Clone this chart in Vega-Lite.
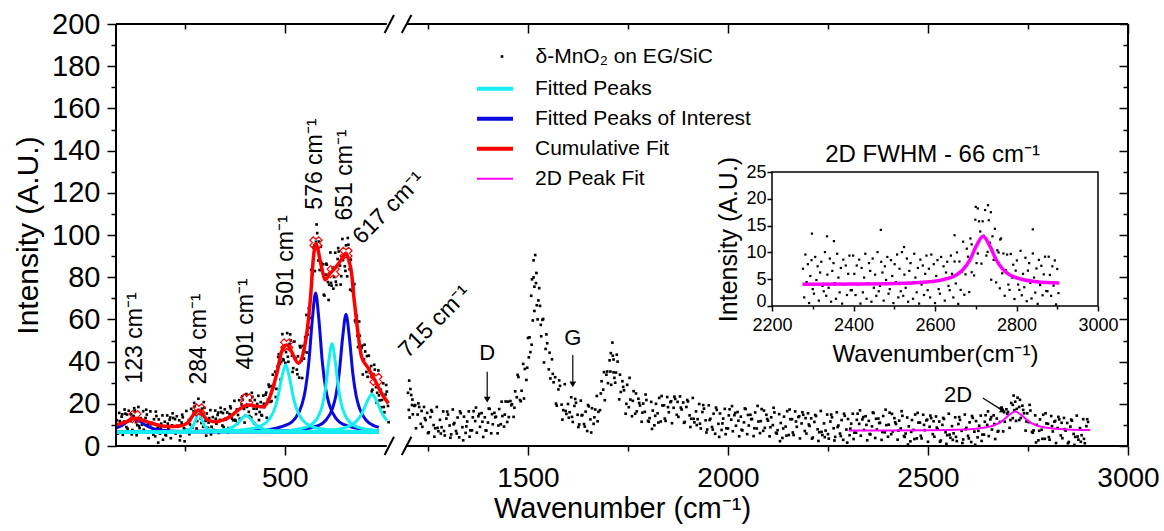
{
"$schema":"https://vega.github.io/schema/vega-lite/v6.json",
"width":1012,"height":422,
"autosize":{"type":"none"},
"padding":{"left":116,"top":24,"right":36,"bottom":85},
"background":"white",
"config":{
"font":"Liberation Sans",
"view":{"stroke":null},
"axis":{"grid":false,"domain":false,"tickColor":"black","labelColor":"black","titleColor":"black","labelFont":"Liberation Sans","titleFont":"Liberation Sans","titleFontWeight":"normal","tickWidth":1.5,"labelFlush":false,"labelOverlap":false,"labelBound":false},
"text":{"font":"Liberation Sans","color":"black"},
"legend":{"labelFont":"Liberation Sans","labelColor":"black","padding":0}
},
"datasets":{
"pts":[
{"x":80,"y":12.2},{"x":83,"y":6.0},{"x":86,"y":15.7},{"x":89,"y":9.7},{"x":92,"y":13.9},{"x":95,"y":5.3},{"x":98,"y":11.6},{"x":101,"y":15.3},{"x":104,"y":9.0},{"x":107,"y":8.2},{"x":110,"y":16.7},{"x":113,"y":11.8},{"x":116,"y":15.0},{"x":119,"y":7.6},{"x":122,"y":14.2},{"x":125,"y":16.8},{"x":128,"y":11.3},{"x":131,"y":9.9},{"x":134,"y":18.5},{"x":137,"y":8.5},{"x":140,"y":13.2},{"x":143,"y":10.1},{"x":146,"y":16.5},{"x":149,"y":6.6},{"x":152,"y":13.3},{"x":155,"y":14.9},{"x":158,"y":10.2},{"x":161,"y":6.5},{"x":164,"y":16.4},{"x":167,"y":10.9},{"x":170,"y":7.4},{"x":173,"y":12.7},{"x":176,"y":4.6},{"x":179,"y":14.2},{"x":182,"y":8.6},{"x":185,"y":12.6},{"x":188,"y":5.9},{"x":191,"y":10.6},{"x":194,"y":14.5},{"x":197,"y":6.7},{"x":200,"y":11.5},{"x":203,"y":5.0},{"x":206,"y":14.5},{"x":209,"y":8.3},{"x":212,"y":12.4},{"x":215,"y":3.7},{"x":218,"y":9.8},{"x":221,"y":13.3},{"x":224,"y":6.8},{"x":227,"y":5.9},{"x":230,"y":14.1},{"x":233,"y":9.1},{"x":236,"y":12.2},{"x":239,"y":4.7},{"x":242,"y":11.1},{"x":245,"y":13.6},{"x":248,"y":8.4},{"x":251,"y":7.6},{"x":254,"y":16.6},{"x":257,"y":7.2},{"x":260,"y":12.3},{"x":263,"y":10.2},{"x":266,"y":17.6},{"x":269,"y":8.8},{"x":272,"y":16.5},{"x":275,"y":18.8},{"x":278,"y":14.8},{"x":281,"y":11.8},{"x":284,"y":22.4},{"x":287,"y":16.8},{"x":290,"y":12.9},{"x":293,"y":17.7},{"x":296,"y":9.1},{"x":299,"y":18.1},{"x":302,"y":11.9},{"x":305,"y":15.4},{"x":308,"y":8.6},{"x":311,"y":13.2},{"x":314,"y":17.0},{"x":317,"y":9.1},{"x":320,"y":13.7},{"x":323,"y":7.3},{"x":326,"y":16.8},{"x":329,"y":10.6},{"x":332,"y":14.7},{"x":335,"y":6.2},{"x":338,"y":12.4},{"x":341,"y":16.1},{"x":344,"y":9.7},{"x":347,"y":9.0},{"x":350,"y":17.4},{"x":353,"y":12.6},{"x":356,"y":15.9},{"x":359,"y":8.5},{"x":362,"y":15.1},{"x":365,"y":17.9},{"x":368,"y":13.0},{"x":371,"y":12.2},{"x":374,"y":21.4},{"x":377,"y":12.0},{"x":380,"y":17.3},{"x":383,"y":14.7},{"x":386,"y":21.7},{"x":389,"y":12.4},{"x":392,"y":19.7},{"x":395,"y":21.9},{"x":398,"y":17.6},{"x":401,"y":14.3},{"x":404,"y":24.6},{"x":407,"y":19.4},{"x":410,"y":16.2},{"x":413,"y":21.6},{"x":416,"y":13.5},{"x":419,"y":23.3},{"x":422,"y":17.7},{"x":425,"y":21.8},{"x":428,"y":15.1},{"x":431,"y":19.9},{"x":434,"y":23.8},{"x":437,"y":16.1},{"x":440,"y":20.8},{"x":443,"y":14.4},{"x":446,"y":23.9},{"x":449,"y":18.4},{"x":452,"y":24.3},{"x":455,"y":13.4},{"x":458,"y":22.1},{"x":461,"y":28.0},{"x":464,"y":20.9},{"x":467,"y":21.3},{"x":470,"y":33.8},{"x":473,"y":28.9},{"x":476,"y":35.2},{"x":479,"y":27.1},{"x":482,"y":37.7},{"x":485,"y":43.5},{"x":488,"y":38.9},{"x":491,"y":39.9},{"x":494,"y":53.0},{"x":497,"y":40.6},{"x":500,"y":47.7},{"x":503,"y":44.5},{"x":506,"y":53.5},{"x":509,"y":39.9},{"x":512,"y":48.4},{"x":515,"y":50.0},{"x":518,"y":42.8},{"x":521,"y":36.9},{"x":524,"y":49.5},{"x":527,"y":41.5},{"x":530,"y":36.2},{"x":533,"y":42.5},{"x":536,"y":32.4},{"x":539,"y":46.7},{"x":542,"y":40.5},{"x":545,"y":47.4},{"x":548,"y":41.4},{"x":551,"y":51.6},{"x":554,"y":62.1},{"x":557,"y":52.8},{"x":560,"y":65.3},{"x":563,"y":60.7},{"x":566,"y":83.5},{"x":569,"y":81.3},{"x":572,"y":94.1},{"x":575,"y":82.9},{"x":578,"y":96.8},{"x":581,"y":100.9},{"x":584,"y":87.9},{"x":587,"y":83.4},{"x":590,"y":94.4},{"x":593,"y":83.2},{"x":596,"y":86.1},{"x":599,"y":71.3},{"x":602,"y":81.2},{"x":605,"y":85.9},{"x":608,"y":77.7},{"x":611,"y":76.4},{"x":614,"y":91.7},{"x":617,"y":76.0},{"x":620,"y":84.5},{"x":623,"y":80.1},{"x":626,"y":91.6},{"x":629,"y":76.3},{"x":632,"y":88.6},{"x":635,"y":92.2},{"x":638,"y":85.5},{"x":641,"y":80.5},{"x":644,"y":98.1},{"x":647,"y":89.9},{"x":650,"y":85.2},{"x":653,"y":95.1},{"x":656,"y":80.4},{"x":659,"y":95.4},{"x":662,"y":83.8},{"x":665,"y":88.3},{"x":668,"y":73.5},{"x":671,"y":75.5},{"x":674,"y":76.7},{"x":677,"y":58.7},{"x":680,"y":61.6},{"x":683,"y":46.9},{"x":686,"y":59.0},{"x":689,"y":45.1},{"x":692,"y":46.5},{"x":695,"y":33.9},{"x":698,"y":41.0},{"x":701,"y":44.8},{"x":704,"y":35.1},{"x":707,"y":32.8},{"x":710,"y":42.8},{"x":713,"y":34.8},{"x":716,"y":37.9},{"x":719,"y":26.7},{"x":722,"y":34.0},{"x":725,"y":36.2},{"x":728,"y":27.9},{"x":731,"y":25.2},{"x":734,"y":35.8},{"x":737,"y":21.6},{"x":740,"y":26.7},{"x":743,"y":21.8},{"x":746,"y":29.7},{"x":749,"y":16.0},{"x":752,"y":24.4},{"x":755,"y":25.8},{"x":758,"y":19.0},
{"x":81.5,"y":6.0},{"x":87.5,"y":11.8},{"x":93.5,"y":15.0},{"x":99.5,"y":17.3},{"x":105.5,"y":14.9},{"x":111.5,"y":12.2},{"x":117.5,"y":5.5},{"x":123.5,"y":17.9},{"x":129.5,"y":5.1},{"x":135.5,"y":9.5},{"x":141.5,"y":6.5},{"x":147.5,"y":7.7},{"x":153.5,"y":17.2},{"x":159.5,"y":3.7},{"x":165.5,"y":10.3},{"x":171.5,"y":5.4},{"x":177.5,"y":16.3},{"x":183.5,"y":1.6},{"x":189.5,"y":8.4},{"x":195.5,"y":3.0},{"x":201.5,"y":5.4},{"x":207.5,"y":10.6},{"x":213.5,"y":13.5},{"x":219.5,"y":15.5},{"x":225.5,"y":12.7},{"x":231.5,"y":9.6},{"x":237.5,"y":2.7},{"x":243.5,"y":14.8},{"x":249.5,"y":2.2},{"x":255.5,"y":7.6},{"x":261.5,"y":5.6},{"x":267.5,"y":8.8},{"x":273.5,"y":20.4},{"x":279.5,"y":8.3},{"x":285.5,"y":16.3},{"x":291.5,"y":10.9},{"x":297.5,"y":20.8},{"x":303.5,"y":4.9},{"x":309.5,"y":11.1},{"x":315.5,"y":5.5},{"x":321.5,"y":7.6},{"x":327.5,"y":12.9},{"x":333.5,"y":15.8},{"x":339.5,"y":18.1},{"x":345.5,"y":15.6},{"x":351.5,"y":12.9},{"x":357.5,"y":6.4},{"x":363.5,"y":18.8},{"x":369.5,"y":6.8},{"x":375.5,"y":12.4},{"x":381.5,"y":10.6},{"x":387.5,"y":12.9},{"x":393.5,"y":23.6},{"x":399.5,"y":11.1},{"x":405.5,"y":18.5},{"x":411.5,"y":14.2},{"x":417.5,"y":25.2},{"x":423.5,"y":10.7},{"x":429.5,"y":17.6},{"x":435.5,"y":12.3},{"x":441.5,"y":14.7},{"x":447.5,"y":20.0},{"x":453.5,"y":25.3},{"x":459.5,"y":29.1},{"x":465.5,"y":28.4},{"x":471.5,"y":27.7},{"x":477.5,"y":23.2},{"x":483.5,"y":42.2},{"x":489.5,"y":31.5},{"x":495.5,"y":41.2},{"x":501.5,"y":39.4},{"x":507.5,"y":42.3},{"x":513.5,"y":52.9},{"x":519.5,"y":35.1},{"x":525.5,"y":41.4},{"x":531.5,"y":34.0},{"x":537.5,"y":47.4},{"x":543.5,"y":32.2},{"x":549.5,"y":44.8},{"x":555.5,"y":44.3},{"x":561.5,"y":56.0},{"x":567.5,"y":76.8},{"x":573.5,"y":95.0},{"x":579.5,"y":105.0},{"x":585.5,"y":96.9},{"x":591.5,"y":86.8},{"x":597.5,"y":71.7},{"x":603.5,"y":86.4},{"x":609.5,"y":69.2},{"x":615.5,"y":77.3},{"x":621.5,"y":74.6},{"x":627.5,"y":77.9},{"x":633.5,"y":93.8},{"x":639.5,"y":76.5},{"x":645.5,"y":88.1},{"x":651.5,"y":83.0},{"x":657.5,"y":98.6},{"x":663.5,"y":74.1},{"x":669.5,"y":77.8},{"x":675.5,"y":59.5},{"x":681.5,"y":52.3},{"x":687.5,"y":52.3},{"x":693.5,"y":47.5},{"x":699.5,"y":48.0},{"x":705.5,"y":42.6},{"x":711.5,"y":36.7},{"x":717.5,"y":25.9},{"x":723.5,"y":38.5},{"x":729.5,"y":20.5},{"x":735.5,"y":24.0},{"x":741.5,"y":18.4},{"x":747.5,"y":18.5},{"x":753.5,"y":28.9},{"x":759.5,"y":11.3},
{"x":1200,"y":25.2},{"x":1204,"y":13.5},{"x":1208,"y":24.2},{"x":1212,"y":15.0},{"x":1216,"y":19.0},{"x":1220,"y":8.4},{"x":1224,"y":14.9},{"x":1228,"y":18.5},{"x":1232,"y":10.5},{"x":1236,"y":9.1},{"x":1240,"y":18.5},{"x":1244,"y":12.3},{"x":1248,"y":15.7},{"x":1252,"y":6.5},{"x":1256,"y":13.7},{"x":1260,"y":16.3},{"x":1264,"y":9.9},{"x":1268,"y":8.4},{"x":1272,"y":18.5},{"x":1276,"y":7.0},{"x":1280,"y":12.4},{"x":1284,"y":8.9},{"x":1288,"y":16.4},{"x":1292,"y":5.0},{"x":1296,"y":13.0},{"x":1300,"y":14.9},{"x":1304,"y":9.7},{"x":1308,"y":5.5},{"x":1312,"y":17.3},{"x":1316,"y":10.9},{"x":1320,"y":7.1},{"x":1324,"y":13.5},{"x":1328,"y":4.1},{"x":1332,"y":15.5},{"x":1336,"y":8.9},{"x":1340,"y":13.9},{"x":1344,"y":6.2},{"x":1348,"y":11.6},{"x":1352,"y":16.4},{"x":1356,"y":7.4},{"x":1360,"y":7.4},{"x":1364,"y":16.5},{"x":1368,"y":11.8},{"x":1372,"y":6.3},{"x":1376,"y":14.1},{"x":1380,"y":9.1},{"x":1384,"y":15.6},{"x":1388,"y":4.3},{"x":1392,"y":13.6},{"x":1396,"y":7.3},{"x":1400,"y":11.1},{"x":1404,"y":17.6},{"x":1408,"y":6.0},{"x":1412,"y":10.3},{"x":1416,"y":15.7},{"x":1420,"y":13.9},{"x":1424,"y":6.0},{"x":1428,"y":17.5},{"x":1432,"y":10.3},{"x":1436,"y":14.2},{"x":1440,"y":9.2},{"x":1444,"y":21.1},{"x":1448,"y":11.4},{"x":1452,"y":13.7},{"x":1456,"y":21.3},{"x":1460,"y":19.8},{"x":1464,"y":13.8},{"x":1468,"y":25.9},{"x":1472,"y":23.1},{"x":1476,"y":32.7},{"x":1480,"y":21.8},{"x":1484,"y":26.2},{"x":1488,"y":38.9},{"x":1492,"y":36.5},{"x":1496,"y":31.3},{"x":1500,"y":51.2},{"x":1504,"y":51.5},{"x":1508,"y":71.2},{"x":1512,"y":59.5},{"x":1516,"y":75.5},{"x":1520,"y":77.2},{"x":1524,"y":60.0},{"x":1528,"y":74.8},{"x":1532,"y":57.4},{"x":1536,"y":59.8},{"x":1540,"y":39.6},{"x":1544,"y":46.0},{"x":1548,"y":48.7},{"x":1552,"y":36.3},{"x":1556,"y":32.0},{"x":1560,"y":41.1},{"x":1564,"y":30.2},{"x":1568,"y":32.6},{"x":1572,"y":19.1},{"x":1576,"y":26.8},{"x":1580,"y":28.5},{"x":1584,"y":19.6},{"x":1588,"y":17.0},{"x":1592,"y":29.3},{"x":1596,"y":15.2},{"x":1600,"y":19.9},{"x":1604,"y":16.0},{"x":1608,"y":23.1},{"x":1612,"y":11.4},{"x":1616,"y":19.0},{"x":1620,"y":20.5},{"x":1624,"y":14.8},{"x":1628,"y":10.2},{"x":1632,"y":21.5},{"x":1636,"y":14.7},{"x":1640,"y":10.4},{"x":1644,"y":16.3},{"x":1648,"y":7.1},{"x":1652,"y":18.8},{"x":1656,"y":12.6},{"x":1660,"y":17.9},{"x":1664,"y":10.5},{"x":1668,"y":17.3},{"x":1672,"y":23.7},{"x":1676,"y":16.2},{"x":1680,"y":17.0},{"x":1684,"y":30.7},{"x":1688,"y":26.7},{"x":1692,"y":21.7},{"x":1696,"y":33.8},{"x":1700,"y":29.8},{"x":1704,"y":40.6},{"x":1708,"y":29.0},{"x":1712,"y":42.8},{"x":1716,"y":32.3},{"x":1720,"y":34.8},{"x":1724,"y":40.0},{"x":1728,"y":22.1},{"x":1732,"y":25.6},{"x":1736,"y":30.7},{"x":1740,"y":26.4},{"x":1744,"y":15.3},{"x":1748,"y":29.0},{"x":1752,"y":18.4},{"x":1756,"y":22.0},{"x":1760,"y":14.1},{"x":1764,"y":26.0},{"x":1768,"y":15.3},{"x":1772,"y":16.4},{"x":1776,"y":22.4},{"x":1780,"y":19.2},{"x":1784,"y":11.5},{"x":1788,"y":20.1},{"x":1792,"y":16.2},{"x":1796,"y":21.8},{"x":1800,"y":11.9},{"x":1804,"y":13.2},{"x":1808,"y":20.9},{"x":1812,"y":16.8},{"x":1816,"y":9.8},{"x":1820,"y":20.0},{"x":1824,"y":15.5},{"x":1828,"y":22.8},{"x":1832,"y":11.6},{"x":1836,"y":19.2},{"x":1840,"y":19.3},{"x":1844,"y":11.9},{"x":1848,"y":23.2},{"x":1852,"y":16.0},{"x":1856,"y":20.8},{"x":1860,"y":10.8},{"x":1864,"y":18.1},{"x":1868,"y":22.3},{"x":1872,"y":14.8},{"x":1876,"y":13.8},{"x":1880,"y":23.5},{"x":1884,"y":17.3},{"x":1888,"y":20.6},{"x":1892,"y":11.4},{"x":1896,"y":18.5},{"x":1900,"y":21.1},{"x":1904,"y":14.5},{"x":1908,"y":12.9},{"x":1912,"y":22.8},{"x":1916,"y":11.2},{"x":1920,"y":16.4},{"x":1924,"y":12.7},{"x":1928,"y":19.9},{"x":1932,"y":8.3},{"x":1936,"y":16.1},{"x":1940,"y":17.7},{"x":1944,"y":12.2},{"x":1948,"y":7.8},{"x":1952,"y":19.3},{"x":1956,"y":12.9},{"x":1960,"y":9.0},{"x":1964,"y":15.3},{"x":1968,"y":5.8},{"x":1972,"y":17.1},{"x":1976,"y":10.5},{"x":1980,"y":15.4},{"x":1984,"y":7.6},{"x":1988,"y":13.0},{"x":1992,"y":17.6},{"x":1996,"y":8.4},{"x":2000,"y":8.3},{"x":2004,"y":17.4},{"x":2008,"y":12.5},{"x":2012,"y":7.0},{"x":2016,"y":14.6},{"x":2020,"y":9.6},{"x":2024,"y":16.1},{"x":2028,"y":4.6},{"x":2032,"y":13.9},{"x":2036,"y":7.4},{"x":2040,"y":11.2},{"x":2044,"y":17.5},{"x":2048,"y":5.6},{"x":2052,"y":9.7},{"x":2056,"y":14.8},{"x":2060,"y":12.8},{"x":2064,"y":4.7},{"x":2068,"y":15.9},{"x":2072,"y":8.3},{"x":2076,"y":11.6},{"x":2080,"y":6.1},{"x":2084,"y":17.5},{"x":2088,"y":7.2},{"x":2092,"y":8.6},{"x":2096,"y":14.8},{"x":2100,"y":12.0},{"x":2104,"y":4.6},{"x":2108,"y":13.6},{"x":2112,"y":9.9},{"x":2116,"y":15.9},{"x":2120,"y":6.3},{"x":2124,"y":7.5},{"x":2128,"y":15.1},{"x":2132,"y":10.9},{"x":2136,"y":3.8},{"x":2140,"y":13.9},{"x":2144,"y":9.2},{"x":2148,"y":16.5},{"x":2152,"y":5.2},{"x":2156,"y":12.7},{"x":2160,"y":12.7},{"x":2164,"y":5.2},{"x":2168,"y":16.4},{"x":2172,"y":9.1},{"x":2176,"y":13.7},{"x":2180,"y":3.6},{"x":2184,"y":10.7},{"x":2188,"y":14.8},{"x":2192,"y":7.1},{"x":2196,"y":5.9},{"x":2200,"y":15.5},{"x":2204,"y":9.5},{"x":2208,"y":13.1},{"x":2212,"y":4.0},{"x":2216,"y":11.4},{"x":2220,"y":14.2},{"x":2224,"y":7.9},{"x":2228,"y":6.5},{"x":2232,"y":16.6},{"x":2236,"y":5.2},{"x":2240,"y":10.7},{"x":2244,"y":7.3},{"x":2248,"y":14.9},{"x":2252,"y":3.5},{"x":2256,"y":11.6},{"x":2260,"y":13.6},{"x":2264,"y":8.4},{"x":2268,"y":4.3},{"x":2272,"y":16.0},{"x":2276,"y":9.7},{"x":2280,"y":5.9},{"x":2284,"y":12.3},{"x":2288,"y":2.9},{"x":2292,"y":14.3},{"x":2296,"y":7.8},{"x":2300,"y":12.8},{"x":2304,"y":5.1},{"x":2308,"y":10.6},{"x":2312,"y":15.3},{"x":2316,"y":6.3},{"x":2320,"y":6.3},{"x":2324,"y":15.3},{"x":2328,"y":10.5},{"x":2332,"y":4.9},{"x":2336,"y":12.6},{"x":2340,"y":7.6},{"x":2344,"y":14.1},{"x":2348,"y":2.7},{"x":2352,"y":11.9},{"x":2356,"y":5.5},{"x":2360,"y":9.3},{"x":2364,"y":15.6},{"x":2368,"y":3.8},{"x":2372,"y":7.8},{"x":2376,"y":13.0},{"x":2380,"y":11.0},{"x":2384,"y":2.9},{"x":2388,"y":14.2},{"x":2392,"y":6.5},{"x":2396,"y":9.9},{"x":2400,"y":4.4},{"x":2404,"y":15.8},{"x":2408,"y":5.6},{"x":2412,"y":6.9},{"x":2416,"y":13.2},{"x":2420,"y":10.4},{"x":2424,"y":3.0},{"x":2428,"y":12.0},{"x":2432,"y":8.3},{"x":2436,"y":14.3},{"x":2440,"y":4.7},{"x":2444,"y":5.9},{"x":2448,"y":13.5},{"x":2452,"y":9.3},{"x":2456,"y":2.2},{"x":2460,"y":12.3},{"x":2464,"y":7.6},{"x":2468,"y":14.9},{"x":2472,"y":3.6},{"x":2476,"y":11.1},{"x":2480,"y":11.1},{"x":2484,"y":3.6},{"x":2488,"y":14.8},{"x":2492,"y":7.5},{"x":2496,"y":12.1},{"x":2500,"y":2.0},{"x":2504,"y":9.1},{"x":2508,"y":13.2},{"x":2512,"y":5.6},{"x":2516,"y":4.4},{"x":2520,"y":14.0},{"x":2524,"y":8.0},{"x":2528,"y":11.6},{"x":2532,"y":2.6},{"x":2536,"y":10.0},{"x":2540,"y":12.8},{"x":2544,"y":6.5},{"x":2548,"y":5.1},{"x":2552,"y":15.3},{"x":2556,"y":3.9},{"x":2560,"y":9.4},{"x":2564,"y":6.0},{"x":2568,"y":13.6},{"x":2572,"y":2.3},{"x":2576,"y":10.4},{"x":2580,"y":12.4},{"x":2584,"y":7.2},{"x":2588,"y":3.1},{"x":2592,"y":14.9},{"x":2596,"y":8.6},{"x":2600,"y":4.8},{"x":2604,"y":11.2},{"x":2608,"y":1.9},{"x":2612,"y":13.3},{"x":2616,"y":6.8},{"x":2620,"y":11.8},{"x":2624,"y":4.1},{"x":2628,"y":9.6},{"x":2632,"y":14.4},{"x":2636,"y":5.4},{"x":2640,"y":5.4},{"x":2644,"y":14.6},{"x":2648,"y":10.0},{"x":2652,"y":4.7},{"x":2656,"y":12.6},{"x":2660,"y":7.8},{"x":2664,"y":14.5},{"x":2668,"y":3.3},{"x":2672,"y":13.0},{"x":2676,"y":7.1},{"x":2680,"y":11.4},{"x":2684,"y":18.2},{"x":2688,"y":6.9},{"x":2692,"y":11.5},{"x":2696,"y":17.4},{"x":2700,"y":16.1},{"x":2704,"y":8.6},{"x":2708,"y":20.4},{"x":2712,"y":13.2},{"x":2716,"y":17.0},{"x":2720,"y":11.9},{"x":2724,"y":22.9},{"x":2728,"y":12.3},{"x":2732,"y":13.3},{"x":2736,"y":19.1},{"x":2740,"y":15.5},{"x":2744,"y":7.3},{"x":2748,"y":15.5},{"x":2752,"y":11.3},{"x":2756,"y":16.8},{"x":2760,"y":6.7},{"x":2764,"y":7.4},{"x":2768,"y":14.5},{"x":2772,"y":10.0},{"x":2776,"y":2.7},{"x":2780,"y":12.6},{"x":2784,"y":7.7},{"x":2788,"y":14.8},{"x":2792,"y":3.4},{"x":2796,"y":10.7},{"x":2800,"y":10.5},{"x":2804,"y":3.0},{"x":2808,"y":14.2},{"x":2812,"y":6.9},{"x":2816,"y":11.5},{"x":2820,"y":1.4},{"x":2824,"y":8.5},{"x":2828,"y":12.6},{"x":2832,"y":5.0},{"x":2836,"y":3.7},{"x":2840,"y":13.3},{"x":2844,"y":7.3},{"x":2848,"y":10.9},{"x":2852,"y":1.9},{"x":2856,"y":9.2},{"x":2860,"y":12.0},{"x":2864,"y":5.7},{"x":2868,"y":4.3},{"x":2872,"y":14.4},{"x":2876,"y":3.0},{"x":2880,"y":8.5},{"x":2884,"y":5.1},{"x":2888,"y":12.7},{"x":2892,"y":1.3},{"x":2896,"y":9.4},{"x":2900,"y":11.4},
{"x":1202,"y":17.1},{"x":1210,"y":19.4},{"x":1218,"y":19.4},{"x":1226,"y":20.2},{"x":1234,"y":16.6},{"x":1242,"y":13.2},{"x":1250,"y":6.1},{"x":1258,"y":17.0},{"x":1266,"y":4.4},{"x":1274,"y":8.6},{"x":1282,"y":5.9},{"x":1290,"y":7.1},{"x":1298,"y":16.3},{"x":1306,"y":3.9},{"x":1314,"y":10.3},{"x":1322,"y":5.9},{"x":1330,"y":16.4},{"x":1338,"y":2.7},{"x":1346,"y":9.3},{"x":1354,"y":4.4},{"x":1362,"y":13.6},{"x":1370,"y":18.2},{"x":1378,"y":15.2},{"x":1386,"y":11.5},{"x":1394,"y":7.4},{"x":1402,"y":17.7},{"x":1410,"y":15.1},{"x":1418,"y":13.6},{"x":1426,"y":9.7},{"x":1434,"y":21.0},{"x":1442,"y":14.9},{"x":1450,"y":21.0},{"x":1458,"y":19.3},{"x":1466,"y":18.1},{"x":1474,"y":33.7},{"x":1482,"y":21.2},{"x":1490,"y":22.5},{"x":1498,"y":37.1},{"x":1506,"y":44.5},{"x":1514,"y":79.9},{"x":1522,"y":66.7},{"x":1530,"y":66.4},{"x":1538,"y":60.2},{"x":1546,"y":52.9},{"x":1554,"y":44.2},{"x":1562,"y":34.2},{"x":1570,"y":20.1},{"x":1578,"y":31.1},{"x":1586,"y":12.5},{"x":1594,"y":16.6},{"x":1602,"y":13.4},{"x":1610,"y":13.8},{"x":1618,"y":22.3},{"x":1626,"y":9.0},{"x":1634,"y":14.5},{"x":1642,"y":9.2},{"x":1650,"y":19.4},{"x":1658,"y":6.4},{"x":1666,"y":13.6},{"x":1674,"y":11.7},{"x":1682,"y":24.9},{"x":1690,"y":35.0},{"x":1698,"y":35.3},{"x":1706,"y":35.3},{"x":1714,"y":34.9},{"x":1722,"y":43.3},{"x":1730,"y":33.8},{"x":1738,"y":28.0},{"x":1746,"y":20.0},{"x":1754,"y":32.3},{"x":1762,"y":21.4},{"x":1770,"y":24.9},{"x":1778,"y":20.4},{"x":1786,"y":15.8},{"x":1794,"y":24.4},{"x":1802,"y":11.5},{"x":1810,"y":8.1},{"x":1818,"y":14.3},{"x":1826,"y":11.1},{"x":1834,"y":23.7},{"x":1842,"y":13.0},{"x":1850,"y":18.4},{"x":1858,"y":21.2},{"x":1866,"y":23.4},{"x":1874,"y":20.9},{"x":1882,"y":18.2},{"x":1890,"y":11.0},{"x":1898,"y":21.8},{"x":1906,"y":9.0},{"x":1914,"y":12.9},{"x":1922,"y":9.9},{"x":1930,"y":10.6},{"x":1938,"y":19.4},{"x":1946,"y":6.4},{"x":1954,"y":12.3},{"x":1962,"y":7.8},{"x":1970,"y":18.2},{"x":1978,"y":4.3},{"x":1986,"y":10.7},{"x":1994,"y":5.6},{"x":2002,"y":14.5},{"x":2010,"y":18.9},{"x":2018,"y":15.7},{"x":2026,"y":12.0},{"x":2034,"y":7.7},{"x":2042,"y":17.8},{"x":2050,"y":14.7},{"x":2058,"y":12.7},{"x":2066,"y":8.4},{"x":2074,"y":19.0},{"x":2082,"y":11.8},{"x":2090,"y":16.8},{"x":2098,"y":12.8},{"x":2106,"y":8.9},{"x":2114,"y":18.1},{"x":2122,"y":5.9},{"x":2130,"y":2.3},{"x":2138,"y":8.3},{"x":2146,"y":4.9},{"x":2154,"y":17.3},{"x":2162,"y":6.4},{"x":2170,"y":11.6},{"x":2178,"y":14.1},{"x":2186,"y":16.0},{"x":2194,"y":13.2},{"x":2202,"y":10.2},{"x":2210,"y":3.5},{"x":2218,"y":14.7},{"x":2226,"y":2.4},{"x":2234,"y":6.7},{"x":2242,"y":4.2},{"x":2250,"y":5.6},{"x":2258,"y":14.9},{"x":2266,"y":2.6},{"x":2274,"y":9.0},{"x":2282,"y":4.7},{"x":2290,"y":15.3},{"x":2298,"y":1.6},{"x":2306,"y":8.2},{"x":2314,"y":3.3},{"x":2322,"y":12.4},{"x":2330,"y":16.9},{"x":2338,"y":13.7},{"x":2346,"y":10.0},{"x":2354,"y":5.7},{"x":2362,"y":15.9},{"x":2370,"y":12.9},{"x":2378,"y":10.9},{"x":2386,"y":6.6},{"x":2394,"y":17.2},{"x":2402,"y":10.1},{"x":2410,"y":15.2},{"x":2418,"y":11.2},{"x":2426,"y":7.3},{"x":2434,"y":16.5},{"x":2442,"y":4.3},{"x":2450,"y":0.7},{"x":2458,"y":6.7},{"x":2466,"y":3.3},{"x":2474,"y":15.7},{"x":2482,"y":4.8},{"x":2490,"y":10.0},{"x":2498,"y":12.5},{"x":2506,"y":14.4},{"x":2514,"y":11.7},{"x":2522,"y":8.7},{"x":2530,"y":2.0},{"x":2538,"y":13.3},{"x":2546,"y":1.0},{"x":2554,"y":5.4},{"x":2562,"y":2.9},{"x":2570,"y":4.3},{"x":2578,"y":13.7},{"x":2586,"y":1.4},{"x":2594,"y":7.9},{"x":2602,"y":3.6},{"x":2610,"y":14.2},{"x":2618,"y":0.6},{"x":2626,"y":7.2},{"x":2634,"y":2.4},{"x":2642,"y":11.5},{"x":2650,"y":16.4},{"x":2658,"y":13.7},{"x":2666,"y":10.4},{"x":2674,"y":6.8},{"x":2682,"y":18.0},{"x":2690,"y":16.0},{"x":2698,"y":15.3},{"x":2706,"y":12.3},{"x":2714,"y":23.9},{"x":2722,"y":17.6},{"x":2730,"y":21.9},{"x":2738,"y":17.1},{"x":2746,"y":11.6},{"x":2754,"y":19.5},{"x":2762,"y":6.3},{"x":2770,"y":1.7},{"x":2778,"y":7.2},{"x":2786,"y":3.4},{"x":2794,"y":15.5},{"x":2802,"y":4.2},{"x":2810,"y":9.4},{"x":2818,"y":11.9},{"x":2826,"y":13.8},{"x":2834,"y":11.0},{"x":2842,"y":8.0},{"x":2850,"y":1.3},{"x":2858,"y":12.5},{"x":2866,"y":0.5},{"x":2874,"y":4.5},{"x":2882,"y":2.0},{"x":2890,"y":3.4},{"x":2898,"y":12.7},
{"x":1514,"y":88},{"x":1518,"y":90.5},{"x":1521,"y":82},{"x":1516,"y":64},{"x":1510,"y":79},{"x":1526,"y":69},{"x":1509,"y":48},{"x":1533,"y":52},{"x":1502,"y":42},{"x":1711,"y":49},{"x":1707,"y":44},{"x":1714,"y":41},{"x":1718,"y":30},{"x":2718,"y":21},{"x":2712,"y":19.5},{"x":2728,"y":18.5},{"x":1203,"y":31},{"x":1206,"y":27},{"x":1211,"y":22}
],
"blue":[
{"p":"b123","x":80,"y":8.63},{"p":"b123","x":93,"y":9.75},{"p":"b123","x":108,"y":11.7},{"p":"b123","x":123,"y":13.0},{"p":"b123","x":138,"y":11.7},{"p":"b123","x":153,"y":9.75},{"p":"b123","x":168,"y":8.5},{"p":"b123","x":183,"y":7.8},{"p":"b123","x":213,"y":7.15},{"p":"b123","x":243,"y":6.88},{"p":"b123","x":363,"y":6.6},{"p":"b123","x":735,"y":6.52},
{"p":"b576","x":80,"y":6.58},{"p":"b576","x":441,"y":7.52},{"p":"b576","x":509,"y":10.38},{"p":"b576","x":526,"y":13.1},{"p":"b576","x":543,"y":19.7},{"p":"b576","x":551.5,"y":26.8},{"p":"b576","x":560,"y":39.5},{"p":"b576","x":568.5,"y":59.3},{"p":"b576","x":577,"y":72.5},{"p":"b576","x":585.5,"y":59.3},{"p":"b576","x":594,"y":39.5},{"p":"b576","x":602.5,"y":26.8},{"p":"b576","x":611,"y":19.7},{"p":"b576","x":628,"y":13.1},{"p":"b576","x":645,"y":10.38},{"p":"b576","x":713,"y":7.52},{"p":"b576","x":735,"y":7.25},
{"p":"b651","x":80,"y":6.55},{"p":"b651","x":517,"y":7.36},{"p":"b651","x":585,"y":9.79},{"p":"b651","x":602,"y":12.1},{"p":"b651","x":619,"y":17.7},{"p":"b651","x":627.5,"y":23.7},{"p":"b651","x":636,"y":34.5},{"p":"b651","x":644.5,"y":51.3},{"p":"b651","x":653,"y":62.5},{"p":"b651","x":661.5,"y":51.3},{"p":"b651","x":670,"y":34.5},{"p":"b651","x":678.5,"y":23.7},{"p":"b651","x":687,"y":17.7},{"p":"b651","x":704,"y":12.1},{"p":"b651","x":721,"y":9.79},{"p":"b651","x":735,"y":8.81}
],
"cyan":[
{"p":"c284","x":80,"y":6.52},{"p":"c284","x":205,"y":6.65},{"p":"c284","x":245,"y":7.06},{"p":"c284","x":255,"y":7.45},{"p":"c284","x":265,"y":8.4},{"p":"c284","x":270,"y":9.42},{"p":"c284","x":275,"y":11.25},{"p":"c284","x":280,"y":14.1},{"p":"c284","x":285,"y":16.0},{"p":"c284","x":290,"y":14.1},{"p":"c284","x":295,"y":11.25},{"p":"c284","x":300,"y":9.42},{"p":"c284","x":305,"y":8.4},{"p":"c284","x":315,"y":7.45},{"p":"c284","x":325,"y":7.06},{"p":"c284","x":365,"y":6.65},{"p":"c284","x":735,"y":6.5},
{"p":"c401","x":80,"y":6.54},{"p":"c401","x":227,"y":6.62},{"p":"c401","x":315,"y":6.97},{"p":"c401","x":337,"y":7.3},{"p":"c401","x":359,"y":8.1},{"p":"c401","x":370,"y":8.96},{"p":"c401","x":381,"y":10.5},{"p":"c401","x":392,"y":12.9},{"p":"c401","x":403,"y":14.5},{"p":"c401","x":414,"y":12.9},{"p":"c401","x":425,"y":10.5},{"p":"c401","x":436,"y":8.96},{"p":"c401","x":447,"y":8.1},{"p":"c401","x":469,"y":7.3},{"p":"c401","x":491,"y":6.97},{"p":"c401","x":579,"y":6.62},{"p":"c401","x":735,"y":6.54},
{"p":"c501","x":80,"y":6.57},{"p":"c501","x":342,"y":6.99},{"p":"c501","x":422,"y":8.38},{"p":"c501","x":442,"y":9.7},{"p":"c501","x":462,"y":12.9},{"p":"c501","x":472,"y":16.35},{"p":"c501","x":482,"y":22.5},{"p":"c501","x":492,"y":32.1},{"p":"c501","x":502,"y":38.5},{"p":"c501","x":512,"y":32.1},{"p":"c501","x":522,"y":22.5},{"p":"c501","x":532,"y":16.35},{"p":"c501","x":542,"y":12.9},{"p":"c501","x":562,"y":9.7},{"p":"c501","x":582,"y":8.38},{"p":"c501","x":662,"y":6.99},{"p":"c501","x":735,"y":6.73},
{"p":"c617","x":80,"y":6.54},{"p":"c617","x":490,"y":7.15},{"p":"c617","x":554,"y":8.97},{"p":"c617","x":570,"y":10.7},{"p":"c617","x":586,"y":14.9},{"p":"c617","x":594,"y":19.4},{"p":"c617","x":602,"y":27.5},{"p":"c617","x":610,"y":40.1},{"p":"c617","x":618,"y":48.5},{"p":"c617","x":626,"y":40.1},{"p":"c617","x":634,"y":27.5},{"p":"c617","x":642,"y":19.4},{"p":"c617","x":650,"y":14.9},{"p":"c617","x":666,"y":10.7},{"p":"c617","x":682,"y":8.97},{"p":"c617","x":735,"y":7.27},
{"p":"c715","x":80,"y":6.53},{"p":"c715","x":518,"y":6.78},{"p":"c715","x":618,"y":7.56},{"p":"c715","x":643,"y":8.3},{"p":"c715","x":668,"y":10.1},{"p":"c715","x":680.5,"y":12.04},{"p":"c715","x":693,"y":15.5},{"p":"c715","x":705.5,"y":20.9},{"p":"c715","x":718,"y":24.5},{"p":"c715","x":730.5,"y":20.9},{"p":"c715","x":743,"y":15.5},{"p":"c715","x":755.5,"y":12.04}
],
"red":[
{"x":78,"y":10},{"x":100,"y":11.2},{"x":125,"y":13.1},{"x":145,"y":12.2},{"x":163,"y":11},{"x":185,"y":9.8},{"x":205,"y":9.2},{"x":230,"y":9.4},{"x":246,"y":9.9},{"x":260,"y":11.5},{"x":271,"y":14.7},{"x":285,"y":17.1},{"x":295,"y":15},{"x":305,"y":12.6},{"x":320,"y":11.6},{"x":330,"y":11.5},{"x":345,"y":12.3},{"x":363,"y":13.9},{"x":380,"y":16.5},{"x":396,"y":18.6},{"x":409,"y":19.4},{"x":425,"y":19},{"x":446,"y":18.6},{"x":460,"y":22},{"x":471,"y":28.1},{"x":482,"y":36},{"x":492,"y":44.7},{"x":505,"y":47.9},{"x":515,"y":45.5},{"x":521,"y":43.1},{"x":534,"y":39.2},{"x":546,"y":44},{"x":559,"y":59.7},{"x":565,"y":72},{"x":571,"y":88.2},{"x":578,"y":96},{"x":583,"y":93},{"x":588,"y":88.2},{"x":594,"y":83},{"x":600.5,"y":78.7},{"x":613,"y":81.8},{"x":625.5,"y":84.2},{"x":638,"y":87.4},{"x":653,"y":91.3},{"x":660,"y":88},{"x":667,"y":81.8},{"x":673,"y":70},{"x":680,"y":58.1},{"x":692,"y":42.3},{"x":709,"y":36.8},{"x":725,"y":31.3},{"x":742,"y":25},{"x":759,"y":20.2}
],
"mag":[
{"x":2302,"y":7.35},{"x":2400,"y":7.4},{"x":2500,"y":7.5},{"x":2586,"y":7.83},{"x":2619,"y":8.2},{"x":2652,"y":9.1},{"x":2668.5,"y":10.07},{"x":2685,"y":11.8},{"x":2701.5,"y":14.5},{"x":2718,"y":16.3},{"x":2734.5,"y":14.5},{"x":2751,"y":11.8},{"x":2767.5,"y":10.07},{"x":2784,"y":9.1},{"x":2817,"y":8.2},{"x":2850,"y":7.83},{"x":2905,"y":7.57}
],
"imag":[
{"x":2275,"y":4.05},{"x":2400,"y":4.1},{"x":2500,"y":4.2},{"x":2586,"y":4.53},{"x":2619,"y":4.9},{"x":2652,"y":5.8},{"x":2668.5,"y":6.77},{"x":2685,"y":8.5},{"x":2701.5,"y":11.2},{"x":2718,"y":13},{"x":2734.5,"y":11.2},{"x":2751,"y":8.5},{"x":2767.5,"y":6.77},{"x":2784,"y":5.8},{"x":2817,"y":4.9},{"x":2850,"y":4.53},{"x":2905,"y":4.27}
],
"ins":[
{"x":2276,"y":6.95},{"x":2279,"y":1.6},{"x":2282,"y":9.6},{"x":2285,"y":4.45},{"x":2288,"y":7.8},{"x":2291,"y":0.55},{"x":2294,"y":5.6},{"x":2297,"y":8.55},{"x":2300,"y":3.15},{"x":2303,"y":2.3},{"x":2306,"y":9.15},{"x":2309,"y":4.85},{"x":2312,"y":7.4},{"x":2315,"y":1.0},{"x":2318,"y":6.25},{"x":2321,"y":8.25},{"x":2324,"y":3.75},{"x":2327,"y":2.75},{"x":2330,"y":10.05},{"x":2333,"y":1.9},{"x":2336,"y":5.85},{"x":2339,"y":3.4},{"x":2342,"y":8.85},{"x":2345,"y":0.8},{"x":2348,"y":6.55},{"x":2351,"y":8.0},{"x":2354,"y":4.25},{"x":2357,"y":1.35},{"x":2360,"y":9.75},{"x":2363,"y":5.3},{"x":2366,"y":2.55},{"x":2369,"y":7.1},{"x":2372,"y":0.45},{"x":2375,"y":8.65},{"x":2378,"y":4.0},{"x":2381,"y":7.55},{"x":2384,"y":2.05},{"x":2387,"y":6.0},{"x":2390,"y":9.4},{"x":2393,"y":2.95},
{"x":2396,"y":2.95},{"x":2399,"y":9.4},{"x":2402,"y":6.0},{"x":2405,"y":2.05},{"x":2408,"y":7.55},{"x":2411,"y":4.0},{"x":2414,"y":8.65},{"x":2417,"y":0.45},{"x":2420,"y":7.1},{"x":2423,"y":2.55},{"x":2426,"y":5.3},{"x":2429,"y":9.75},{"x":2432,"y":1.35},{"x":2435,"y":4.25},{"x":2438,"y":8.0},{"x":2441,"y":6.55},{"x":2444,"y":0.8},{"x":2447,"y":8.85},{"x":2450,"y":3.4},{"x":2453,"y":5.85},{"x":2456,"y":1.9},{"x":2459,"y":10.05},{"x":2462,"y":2.75},{"x":2465,"y":3.75},{"x":2468,"y":8.25},{"x":2471,"y":6.25},{"x":2474,"y":1.0},{"x":2477,"y":7.4},{"x":2480,"y":4.85},{"x":2483,"y":9.15},{"x":2486,"y":2.3},{"x":2489,"y":3.15},{"x":2492,"y":8.55},{"x":2495,"y":5.6},{"x":2498,"y":0.55},{"x":2501,"y":7.8},{"x":2504,"y":4.45},{"x":2507,"y":9.6},{"x":2510,"y":1.6},{"x":2513,"y":6.95},
{"x":2516,"y":2.75},{"x":2519,"y":10.05},{"x":2522,"y":1.9},{"x":2525,"y":5.85},{"x":2528,"y":3.4},{"x":2531,"y":8.85},{"x":2534,"y":0.8},{"x":2537,"y":6.55},{"x":2540,"y":8.0},{"x":2543,"y":4.25},{"x":2546,"y":1.35},{"x":2549,"y":9.75},{"x":2552,"y":5.3},{"x":2555,"y":2.55},{"x":2558,"y":7.1},{"x":2561,"y":0.45},{"x":2564,"y":8.65},{"x":2567,"y":4.0},{"x":2570,"y":7.55},{"x":2573,"y":2.05},{"x":2576,"y":6.0},{"x":2579,"y":9.4},{"x":2582,"y":2.95},{"x":2585,"y":6.95},{"x":2588,"y":1.6},{"x":2591,"y":9.6},{"x":2594,"y":4.45},{"x":2597,"y":7.8},{"x":2600,"y":0.55},{"x":2603,"y":5.6},{"x":2606,"y":8.55},{"x":2609,"y":3.15},{"x":2612,"y":2.3},{"x":2615,"y":9.15},{"x":2618,"y":4.85},{"x":2621,"y":7.4},{"x":2624,"y":1.0},{"x":2627,"y":6.25},{"x":2630,"y":8.25},{"x":2633,"y":3.75},{"x":2636,"y":2.95},{"x":2639,"y":9.4},{"x":2642,"y":6.0},
{"x":2645,"y":1.6},{"x":2648,"y":8.3},{"x":2651,"y":4.2},{"x":2654,"y":10.0},{"x":2657,"y":0.4},{"x":2660,"y":8.3},{"x":2663,"y":3.0},{"x":2666,"y":6.4},{"x":2669,"y":12.0},{"x":2672,"y":2.1},{"x":2675,"y":5.9},{"x":2678,"y":10.7},{"x":2681,"y":9.2},{"x":2684,"y":2.6},{"x":2687,"y":12.6},{"x":2690,"y":6.3},{"x":2693,"y":9.9},{"x":2696,"y":5.7},{"x":2699,"y":16.1},{"x":2702,"y":8.0},{"x":2705,"y":9.8},{"x":2708,"y":15.8},{"x":2711,"y":13.9},{"x":2714,"y":7.9},{"x":2717,"y":15.8},{"x":2720,"y":13.1},{"x":2723,"y":17.9},{"x":2726,"y":9.4},{"x":2729,"y":10.1},{"x":2732,"y":16.0},{"x":2735,"y":11.8},{"x":2738,"y":4.9},{"x":2741,"y":13.0},{"x":2744,"y":8.6},{"x":2747,"y":14.4},{"x":2750,"y":4.4},{"x":2753,"y":10.4},{"x":2756,"y":10.0},{"x":2759,"y":3.3},{"x":2762,"y":12.6},{"x":2765,"y":6.1},{"x":2768,"y":9.8},{"x":2771,"y":1.9},{"x":2774,"y":6.7},{"x":2777,"y":9.6},{"x":2780,"y":4.0},{"x":2783,"y":3.0},{"x":2786,"y":9.7},{"x":2789,"y":5.3},{"x":2792,"y":7.7},{"x":2795,"y":1.3},{"x":2798,"y":6.6},{"x":2801,"y":8.5},{"x":2804,"y":4.0},{"x":2807,"y":3.0},{"x":2810,"y":10.3},{"x":2813,"y":2.0},{"x":2816,"y":6.0},{"x":2819,"y":3.5},{"x":2822,"y":9.0},{"x":2825,"y":0.9},{"x":2828,"y":6.6},{"x":2831,"y":8.0},{"x":2834,"y":4.3},{"x":2837,"y":1.4},{"x":2840,"y":9.8},{"x":2843,"y":5.3},{"x":2846,"y":2.5},{"x":2849,"y":7.0},{"x":2852,"y":0.4},{"x":2855,"y":8.6},{"x":2858,"y":3.9},{"x":2861,"y":7.5},{"x":2864,"y":2.0},{"x":2867,"y":5.9},{"x":2870,"y":9.2},{"x":2873,"y":2.8},{"x":2876,"y":2.75},{"x":2879,"y":9.2},{"x":2882,"y":5.8},{"x":2885,"y":1.9},{"x":2888,"y":7.4},{"x":2891,"y":3.8},{"x":2894,"y":8.5},{"x":2897,"y":0.3},{"x":2900,"y":6.9},{"x":2903,"y":2.4},
{"x":2298,"y":13.5},{"x":2335,"y":13.0},{"x":2352,"y":12.1},{"x":2467,"y":14.2},{"x":2524,"y":11.0},{"x":2648,"y":13.2},{"x":2700,"y":18.5},{"x":2705,"y":18.2},{"x":2730,"y":18.8},{"x":2737,"y":17.5},{"x":2690,"y":11.5},{"x":2760,"y":12.4},{"x":2840,"y":14.3}
],
"xmarks":[
{"x":125.5,"y":13.9},{"x":285.5,"y":17.1},{"x":404.7,"y":21.8},{"x":504.7,"y":47.9},{"x":578,"y":96.3},{"x":621,"y":82.6},{"x":653,"y":91.3},{"x":728,"y":31.6}
],
"frame":[
{"x":78,"x2":755,"y":0,"y2":0},{"x":1196,"x2":3000,"y":0,"y2":0},{"x":78,"x2":755,"y":200,"y2":200},{"x":1196,"x2":3000,"y":200,"y2":200},{"x":78,"x2":78,"y":0,"y2":200},{"x":3000,"x2":3000,"y":0,"y2":200},
{"x":749.5,"x2":886.5,"y":-4.3,"y2":4.4},{"x":1107,"x2":1208.5,"y":-4.3,"y2":4.4},{"x":749.5,"x2":886.5,"y":195.7,"y2":204.3},{"x":1107,"x2":1208.5,"y":195.7,"y2":204.3}
],
"lab90":[
{"x":125.5,"y":51.2,"t":"123 cm⁻¹"},{"x":285.5,"y":50.7,"t":"284 cm⁻¹"},{"x":403,"y":57.8,"t":"401 cm⁻¹"},{"x":503,"y":87.7,"t":"501 cm⁻¹"},{"x":575.5,"y":133.6,"t":"576 cm⁻¹"},{"x":650.5,"y":128.4,"t":"651 cm⁻¹"}
],
"lab45":[
{"x":760.5,"y":112.8,"t":"617 cm⁻¹"},{"x":1267.5,"y":58.9,"t":"715 cm⁻¹"}
],
"lab0":[
{"x":1398,"y":44,"t":"D"},{"x":1612,"y":51,"t":"G"},{"x":2575,"y":24.2,"t":"2D"}
],
"arr":[
{"x":1398,"y":35.2,"x2":1398,"y2":23},{"x":1612,"y":43.1,"x2":1612,"y2":30.5},{"x":2637,"y":22.7,"x2":2685,"y2":17}
],
"heads":[
{"x":1398,"y":22},{"x":1612,"y":29.2}
],
"head2":[
{"x":2688,"y":16.6}
]
},
"layer":[
{
"layer":[
{"data":{"name":"pts"},
"mark":{"type":"point","filled":true,"color":"black","size":7,"opacity":1,"strokeWidth":0},
"encoding":{
"x":{"field":"x","type":"quantitative","scale":{"domain":[78,762,1192,3000],"range":[0,273.6,288.8,1012],"nice":false,"zero":false},
"axis":{"orient":"bottom","values":[250,500,1250,1500,1750,2000,2250,2500,2750,3000],"format":"d","labelExpr":"datum.value % 500 === 0 ? datum.label : ''","tickSize":{"condition":{"test":"datum.value % 500 === 0","value":9},"value":5},"labelFontSize":28,"labelPadding":9,"title":"Wavenumber (cm⁻¹)","titleFontSize":29,"titleY":71,"titleBaseline":"alphabetic"}},
"y":{"field":"y","type":"quantitative","scale":{"domain":[0,200],"nice":false,"zero":false},
"axis":{"orient":"left","values":[0,10,20,30,40,50,60,70,80,90,100,110,120,130,140,150,160,170,180,190,200],"format":"d","labelExpr":"datum.value % 20 === 0 ? datum.label : ''","tickSize":{"condition":{"test":"datum.value % 20 === 0","value":9},"value":5},"labelFontSize":29,"labelPadding":7,"title":"Intensity (A.U.)","titleFontSize":30,"titleX":-79,"titleY":211,"titleBaseline":"alphabetic"}},
"shape":{"datum":"δ-MnO₂ on EG/SiC","type":"nominal","scale":{"range":["square"]},
"legend":{"orient":"none","legendX":375.5,"legendY":22,"title":null,"symbolSize":7,"symbolFillColor":"black","symbolStrokeColor":"black","labelFontSize":21,"labelOffset":23,"labelLimit":400}}
}},
{"data":{"name":"blue"},
"mark":{"type":"line","interpolate":"monotone","strokeWidth":3},
"encoding":{"x":{"field":"x","type":"quantitative","axis":null},"y":{"field":"y","type":"quantitative","axis":null},"detail":{"field":"p"},
"color":{"datum":"Fitted Peaks of Interest","type":"nominal","scale":{"domain":["Fitted Peaks","Fitted Peaks of Interest","Cumulative  Fit","2D Peak Fit"],"range":["#14EEF0","#0A0AE0","#FF0000","#FF00FF"]},
"legend":{"orient":"none","legendX":361,"legendY":50,"title":null,"symbolType":"stroke","symbolSize":2601,"symbolStrokeWidth":3.5,"labelFontSize":21,"labelOffset":37,"rowPadding":0,"clipHeight":29.5,"labelLimit":400,
"encode":{"symbols":{"update":{"strokeWidth":{"signal":"datum.value === '2D Peak Fit' ? 2.2 : 4"}}}}}}}},
{"data":{"name":"cyan"},
"mark":{"type":"line","interpolate":"monotone","strokeWidth":3},
"encoding":{"x":{"field":"x","type":"quantitative","axis":null},"y":{"field":"y","type":"quantitative","axis":null},"detail":{"field":"p"},
"color":{"datum":"Fitted Peaks","type":"nominal"}}},
{"data":{"name":"red"},
"mark":{"type":"line","interpolate":"monotone","strokeWidth":3.5},
"encoding":{"x":{"field":"x","type":"quantitative","axis":null},"y":{"field":"y","type":"quantitative","axis":null},
"color":{"datum":"Cumulative  Fit","type":"nominal"}}},
{"data":{"name":"mag"},
"mark":{"type":"line","interpolate":"monotone","strokeWidth":2},
"encoding":{"x":{"field":"x","type":"quantitative","axis":null},"y":{"field":"y","type":"quantitative","axis":null},
"color":{"datum":"2D Peak Fit","type":"nominal"}}},
{"data":{"name":"xmarks"},
"mark":{"type":"point","shape":"cross","angle":45,"filled":false,"stroke":"#FF0000","strokeWidth":1.2,"size":150,"opacity":1},
"encoding":{"x":{"field":"x","type":"quantitative","axis":null},"y":{"field":"y","type":"quantitative","axis":null}}},
{"data":{"name":"frame"},
"mark":{"type":"rule","color":"black","strokeWidth":2},
"encoding":{
"x":{"field":"x","type":"quantitative","axis":{"orient":"top","values":[250,500,1250,1500,1750,2000,2250,2500,2750,3000],"labels":false,"title":null,"tickSize":{"condition":{"test":"datum.value % 500 === 0","value":-9},"value":-5}}},
"x2":{"field":"x2"},
"y":{"field":"y","type":"quantitative","axis":{"orient":"right","values":[0,10,20,30,40,50,60,70,80,90,100,110,120,130,140,150,160,170,180,190,200],"labels":false,"title":null,"tickSize":{"condition":{"test":"datum.value % 20 === 0","value":-9},"value":-5}}},
"y2":{"field":"y2"}}},
{"data":{"name":"lab90"},
"mark":{"type":"text","angle":270,"fontSize":23,"align":"center","baseline":"middle"},
"encoding":{"x":{"field":"x","type":"quantitative","axis":null},"y":{"field":"y","type":"quantitative","axis":null},"text":{"field":"t"}}},
{"data":{"name":"lab45"},
"mark":{"type":"text","angle":315,"fontSize":23,"align":"center","baseline":"middle"},
"encoding":{"x":{"field":"x","type":"quantitative","axis":null},"y":{"field":"y","type":"quantitative","axis":null},"text":{"field":"t"}}},
{"data":{"name":"lab0"},
"mark":{"type":"text","fontSize":22,"align":"center","baseline":"middle"},
"encoding":{"x":{"field":"x","type":"quantitative","axis":null},"y":{"field":"y","type":"quantitative","axis":null},"text":{"field":"t"}}},
{"data":{"name":"arr"},
"mark":{"type":"rule","color":"black","strokeWidth":1.2},
"encoding":{"x":{"field":"x","type":"quantitative","axis":null},"x2":{"field":"x2"},"y":{"field":"y","type":"quantitative","axis":null},"y2":{"field":"y2"}}},
{"data":{"name":"heads"},
"mark":{"type":"point","shape":"triangle-down","filled":true,"color":"black","size":45,"opacity":1},
"encoding":{"x":{"field":"x","type":"quantitative","axis":null},"y":{"field":"y","type":"quantitative","axis":null}}},
{"data":{"name":"head2"},
"mark":{"type":"point","shape":"triangle-right","angle":32,"filled":true,"color":"black","size":45,"opacity":1},
"encoding":{"x":{"field":"x","type":"quantitative","axis":null},"y":{"field":"y","type":"quantitative","axis":null}}}
],
"resolve":{"axis":{"x":"independent","y":"independent"}}
},
{
"layer":[
{"data":{"values":[{}]},
"mark":{"type":"rect","filled":false,"stroke":"black","strokeWidth":1.5},
"encoding":{"x":{"datum":2200,"type":"quantitative"},"x2":{"datum":3000},"y":{"datum":0,"type":"quantitative"},"y2":{"datum":25}}},
{"data":{"name":"ins"},
"mark":{"type":"point","filled":true,"color":"black","size":5,"opacity":1,"strokeWidth":0,"shape":"square"},
"encoding":{
"x":{"field":"x","type":"quantitative","scale":{"domain":[2200,3000],"range":[656,982],"nice":false,"zero":false},
"axis":{"orient":"bottom","offset":-140,"values":[2200,2300,2400,2500,2600,2700,2800,2900,3000],"format":"d","labelExpr":"datum.value % 200 === 0 ? datum.label : ''","tickSize":{"condition":{"test":"datum.value % 200 === 0","value":5},"value":3},"labelFontSize":18,"labelPadding":5,"title":"Wavenumber(cm⁻¹)","titleFontSize":24,"titleY":55,"titleBaseline":"alphabetic"}},
"y":{"field":"y","type":"quantitative","scale":{"domain":[0,25],"range":[282,148],"nice":false,"zero":false},
"axis":{"orient":"left","offset":-656,"values":[0,5,10,15,20,25],"format":"d","tickSize":5,"labelFontSize":18,"labelPadding":1,"labelBaseline":{"condition":{"test":"datum.value === 0","value":"alphabetic"},"value":"middle"},"title":"Intensity (A.U.)","titleFontSize":25,"titleX":-35.5,"titleY":215,"titleBaseline":"alphabetic"}}
}},
{"data":{"name":"imag"},
"mark":{"type":"line","interpolate":"monotone","strokeWidth":3.5,"color":"#FF00FF"},
"encoding":{"x":{"field":"x","type":"quantitative"},"y":{"field":"y","type":"quantitative"}}},
{"data":{"values":[{}]},
"mark":{"type":"text","fontSize":24,"align":"center","baseline":"middle","text":"2D FWHM - 66 cm⁻¹"},
"encoding":{"x":{"datum":2594,"type":"quantitative"},"y":{"datum":28.2,"type":"quantitative"}}}
]
}
],
"resolve":{"scale":{"x":"independent","y":"independent"}}
}
